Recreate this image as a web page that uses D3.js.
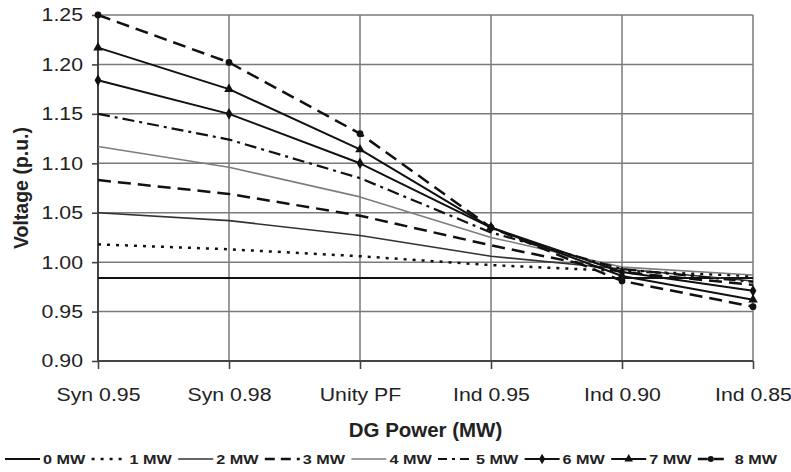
<!DOCTYPE html>
<html>
<head>
<meta charset="utf-8">
<script src="https://cdn.jsdelivr.net/npm/d3@7/dist/d3.min.js"></script>
<style>
  body { margin: 0; background: #fff; }
  svg { display: block; font-family: Arial, "Liberation Sans", sans-serif; }
</style>
</head>
<body>
<svg id="chart" width="791" height="472"></svg>
<script>
const categories = ["Syn 0.95", "Syn 0.98", "Unity PF", "Ind 0.95", "Ind 0.90", "Ind 0.85"];
const seriesNames = ["0 MW", "1 MW", "2 MW", "3 MW", "4 MW", "5 MW", "6 MW", "7 MW", "8 MW"];
const mw0 = [0.984, 0.984, 0.984, 0.984, 0.984, 0.984];
const mw1 = [1.018, 1.013, 1.006, 0.997, 0.991, 0.986];
const mw2 = [1.050, 1.042, 1.027, 1.006, 0.993, 0.981];
const mw3 = [1.083, 1.069, 1.047, 1.017, 0.990, 0.977];
const mw4 = [1.117, 1.096, 1.066, 1.025, 0.995, 0.987];
const mw5 = [1.150, 1.124, 1.085, 1.030, 0.993, 0.980];
const mw6 = [1.184, 1.150, 1.100, 1.035, 0.990, 0.971];
const mw7 = [1.217, 1.175, 1.114, 1.035, 0.986, 0.962];
const mw8 = [1.250, 1.202, 1.130, 1.035, 0.981, 0.955];
const yTicks = [0.90, 0.95, 1.00, 1.05, 1.10, 1.15, 1.20, 1.25];
const xTitle = "DG Power (MW)";
const yTitle = "Voltage (p.u.)";

const seriesValues = [mw0, mw1, mw2, mw3, mw4, mw5, mw6, mw7, mw8];

// styles per series (presentation only)
const styles = [
  {stroke: "#111", width: 2,   dash: null,            marker: null},
  {stroke: "#111", width: 2.5, dash: "3,6",           marker: null},
  {stroke: "#333", width: 1.6, dash: null,            marker: null},
  {stroke: "#111", width: 2.5, dash: "13,7",          marker: null},
  {stroke: "#7d7d7d", width: 1.6, dash: null,         marker: null},
  {stroke: "#111", width: 2.2, dash: "12,5,3,5",      marker: null},
  {stroke: "#111", width: 2,   dash: null,            marker: "diamond"},
  {stroke: "#111", width: 2,   dash: null,            marker: "triangle"},
  {stroke: "#111", width: 2.5, dash: "13,7",          marker: "circle"}
];

const svg = d3.select("#chart");
const margin = {left: 98, right: 38, top: 15, bottom: 111};
const W = 791, H = 472;
const iw = W - margin.left - margin.right, ih = H - margin.top - margin.bottom;

const x = d3.scalePoint().domain(categories).range([0, iw]);
const y = d3.scaleLinear().domain([0.90, 1.25]).range([ih, 0]);

const g = svg.append("g").attr("transform", `translate(${margin.left},${margin.top})`);

// gridlines
g.append("g").selectAll("line").data(yTicks.slice(1)).join("line")
  .attr("x1", 0).attr("x2", iw).attr("y1", d => y(d)).attr("y2", d => y(d))
  .attr("stroke", "#7a7a7a").attr("stroke-width", 1.5);
g.append("g").selectAll("line").data(categories.slice(1)).join("line")
  .attr("x1", d => x(d)).attr("x2", d => x(d)).attr("y1", 0).attr("y2", ih)
  .attr("stroke", "#7a7a7a").attr("stroke-width", 1.5);

// axes
const sx = 1.15;
const yAxis = d3.axisLeft(y).tickValues(yTicks).tickFormat(d3.format(".2f")).tickSize(6);
const xAxis = d3.axisBottom(x).tickSize(8).tickPadding(19);

const ya = g.append("g").call(yAxis);
const xa = g.append("g").attr("transform", `translate(0,${ih})`).call(xAxis);
[ya, xa].forEach(a => {
  a.select(".domain").attr("stroke", "#444").attr("stroke-width", 2);
  a.selectAll(".tick line").attr("stroke", "#444").attr("stroke-width", 1.6);
  a.selectAll(".tick text").attr("fill", "#222").style("font-size", "18.5px")
    .style("font-family", "Arial, 'Liberation Sans', sans-serif")
    .attr("transform", `scale(${sx},1)`);
});
ya.selectAll(".tick text").attr("x", -15 / sx);
xa.select(".domain").attr("d", `M0,0H${iw}`);
ya.select(".domain").attr("d", `M0,${ih}V0`);

// lines
const line = d3.line().x((d, i) => x(categories[i])).y(d => y(d));
const symbolFor = m => m === "diamond" ? d3.symbolDiamond : m === "triangle" ? d3.symbolTriangle : d3.symbolCircle;
const symSize = m => m === "diamond" ? 40 : m === "triangle" ? 40 : 36;

seriesValues.forEach((vals, si) => {
  const st = styles[si];
  g.append("path").datum(vals).attr("d", line)
    .attr("fill", "none").attr("stroke", st.stroke).attr("stroke-width", st.width)
    .attr("stroke-dasharray", st.dash).attr("stroke-linejoin", "round");
});
seriesValues.forEach((vals, si) => {
  const st = styles[si];
  if (!st.marker) return;
  g.append("g").selectAll("path").data(vals).join("path")
    .attr("transform", (d, i) => `translate(${x(categories[i])},${y(d)})`)
    .attr("d", d3.symbol().type(symbolFor(st.marker)).size(symSize(st.marker)))
    .attr("fill", "#111");
});

// axis titles
svg.append("text").attr("transform", `translate(${margin.left + iw / 2},437) scale(1.05,1)`)
  .attr("text-anchor", "middle").style("font-size", "19.5px").style("font-weight", "bold")
  .attr("fill", "#222").text(xTitle);
svg.append("text").attr("transform", `translate(28,188) rotate(-90)`)
  .attr("text-anchor", "middle").style("font-size", "19.5px").style("font-weight", "bold")
  .attr("fill", "#222").text(yTitle);

// legend
const lg = svg.append("g").attr("transform", "translate(5,459)");
seriesNames.forEach((name, i) => {
  const st = styles[i];
  const x0 = i * 86.6;
  const sw = i === 8 ? 26 : 35;
  const item = lg.append("g").attr("transform", `translate(${x0},0)`);
  item.append("line").attr("x1", 0).attr("x2", sw).attr("y1", 0).attr("y2", 0)
    .attr("stroke", st.stroke).attr("stroke-width", st.width)
    .attr("stroke-dasharray", st.dash ? (i === 3 || i === 8 ? "10,6" : i === 5 ? "9,5,3,5" : "3,6") : null);
  if (st.marker) {
    item.append("path").attr("transform", `translate(${sw / 2},0)`)
      .attr("d", d3.symbol().type(symbolFor(st.marker)).size(symSize(st.marker) * 0.8))
      .attr("fill", "#111");
  }
  item.append("text").attr("transform", `translate(${i === 8 ? 37 : 38},5) scale(1.2,1)`)
    .style("font-size", "13.5px").style("font-weight", "bold").attr("fill", "#222")
    .text(name);
});
</script>
</body>
</html>
